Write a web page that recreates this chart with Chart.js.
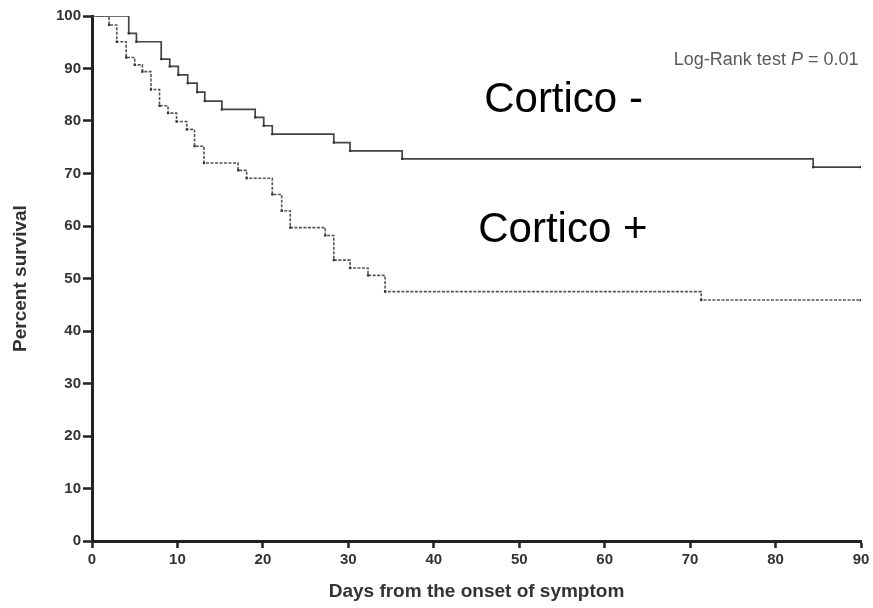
<!DOCTYPE html>
<html>
<head>
<meta charset="utf-8">
<script src="https://cdn.jsdelivr.net/npm/chart.js@4.4.1/dist/chart.umd.min.js"></script>
<style>
  html, body { margin: 0; padding: 0; background: #fff; }
  #wrap { width: 873px; height: 608px; position: relative; }
</style>
</head>
<body>
<div id="wrap"><canvas id="c" width="873" height="608"></canvas></div>
<script>
// Cortico - (solid line): day of each step and survival (%) after it
const daysCorticoNeg = [0, 4.3, 5.2, 8.1, 9.1, 10.1, 11.2, 12.3, 13.2, 15.2, 19.1, 20.1, 21.1, 28.3, 30.2, 36.3, 84.4, 90];
const survCorticoNeg = [100, 96.7, 95.1, 91.8, 90.4, 88.8, 87.2, 85.5, 83.8, 82.2, 80.7, 79.1, 77.5, 75.9, 74.3, 72.8, 71.2, 71.2];

// Cortico + (dotted line)
const daysCorticoPos = [0, 2.0, 2.9, 4.0, 5.0, 5.9, 6.9, 7.9, 8.9, 9.9, 11.1, 12.0, 13.1, 17.1, 18.1, 21.1, 22.2, 23.2, 27.3, 28.3, 30.2, 32.3, 34.3, 71.3, 90];
const survCorticoPos = [100, 98.3, 95.1, 92.1, 90.7, 89.4, 86.0, 82.9, 81.5, 79.9, 78.4, 75.2, 72.0, 70.6, 69.1, 66.0, 62.9, 59.7, 58.2, 53.5, 52.0, 50.6, 47.5, 45.9, 45.9];

// Axis ticks
const xTickValues = [0, 10, 20, 30, 40, 50, 60, 70, 80, 90];
const yTickValues = [0, 10, 20, 30, 40, 50, 60, 70, 80, 90, 100];

// Labels
const seriesLabels = ['Cortico -', 'Cortico +'];
const xTitle = 'Days from the onset of symptom';
const yTitle = 'Percent survival';
// Annotation anchors (in data units: day, percent)
const labelNegAt = [45.9, 81.7];
const labelPosAt = [45.2, 57.0];
const logRankAt = [89.7, 90.7];

function toPoints(xs, ys) { return xs.map((x, i) => ({ x: x, y: ys[i] })); }
function radii(n) { return Array.from({ length: n }, (_, i) => (i === 0 ? 0 : 1.6)); }

const annotate = {
  id: 'annotate',
  afterDatasetsDraw(chart) {
    const { ctx, scales: { x, y } } = chart;
    ctx.save();
    ctx.fillStyle = '#000';
    ctx.textBaseline = 'alphabetic';
    ctx.textAlign = 'left';
    ctx.font = '42px "Liberation Sans", Arial, sans-serif';
    ctx.fillText(seriesLabels[0], x.getPixelForValue(labelNegAt[0]), y.getPixelForValue(labelNegAt[1]));
    ctx.fillText(seriesLabels[1], x.getPixelForValue(labelPosAt[0]), y.getPixelForValue(labelPosAt[1]));

    // Log-Rank test P = 0.01 (right aligned, P italic)
    const parts = [
      { t: 'Log-Rank test ', f: '18px "Liberation Sans", Arial, sans-serif' },
      { t: 'P', f: 'italic 18px "Liberation Sans", Arial, sans-serif' },
      { t: ' = 0.01', f: '18px "Liberation Sans", Arial, sans-serif' }
    ];
    let total = 0;
    parts.forEach(p => { ctx.font = p.f; p.w = ctx.measureText(p.t).width; total += p.w; });
    let px = x.getPixelForValue(logRankAt[0]) - total;
    const py = y.getPixelForValue(logRankAt[1]);
    ctx.fillStyle = '#5a5a5a';
    parts.forEach(p => { ctx.font = p.f; ctx.fillText(p.t, px, py); px += p.w; });
    ctx.restore();
  }
};

new Chart(document.getElementById('c'), {
  type: 'line',
  data: {
    datasets: [
      {
        label: seriesLabels[0],
        data: toPoints(daysCorticoNeg, survCorticoNeg),
        stepped: true,
        borderColor: '#444',
        borderWidth: 1.7,
        pointStyle: 'rect',
        pointRadius: radii(daysCorticoNeg.length),
        pointBackgroundColor: '#333',
        pointBorderWidth: 0,
        fill: false
      },
      {
        label: seriesLabels[1],
        data: toPoints(daysCorticoPos, survCorticoPos),
        stepped: true,
        borderColor: '#555',
        borderWidth: 1.6,
        borderDash: [3, 1.5],
        pointStyle: 'rect',
        pointRadius: radii(daysCorticoPos.length),
        pointBackgroundColor: '#333',
        pointBorderWidth: 0,
        fill: false
      }
    ]
  },
  options: {
    responsive: false,
    animation: false,
    events: [],
    layout: { padding: { top: 16, right: 12, left: 0, bottom: 0 } },
    plugins: { legend: { display: false }, tooltip: { enabled: false } },
    scales: {
      x: {
        type: 'linear',
        min: 0,
        max: 90,
        afterBuildTicks: s => { s.ticks = xTickValues.map(v => ({ value: v })); },
        afterFit: s => { s.height = 67; },
        border: { display: true, color: '#222', width: 3 },
        grid: { display: true, drawOnChartArea: false, drawTicks: true, tickLength: 7, tickWidth: 2.5, tickColor: '#222' },
        ticks: { color: '#333', padding: 3, maxRotation: 0, font: { family: '"Liberation Sans", Arial, sans-serif', size: 15, weight: 'bold' } },
        title: { display: true, text: xTitle, color: '#333', padding: { top: 0, bottom: 5 }, font: { family: '"Liberation Sans", Arial, sans-serif', size: 19, weight: 'bold' } }
      },
      y: {
        type: 'linear',
        min: 0,
        max: 100,
        afterBuildTicks: s => { s.ticks = yTickValues.map(v => ({ value: v })); },
        afterFit: s => { s.width = 92; },
        border: { display: true, color: '#222', width: 3 },
        grid: { display: true, drawOnChartArea: false, drawTicks: true, tickLength: 9, tickWidth: 2.5, tickColor: '#222' },
        ticks: { color: '#333', padding: 2, font: { family: '"Liberation Sans", Arial, sans-serif', size: 15, weight: 'bold' } },
        title: { display: true, text: yTitle, color: '#333', padding: { top: 9, bottom: 0 }, font: { family: '"Liberation Sans", Arial, sans-serif', size: 19, weight: 'bold' } }
      }
    }
  },
  plugins: [annotate]
});
</script>
</body>
</html>
